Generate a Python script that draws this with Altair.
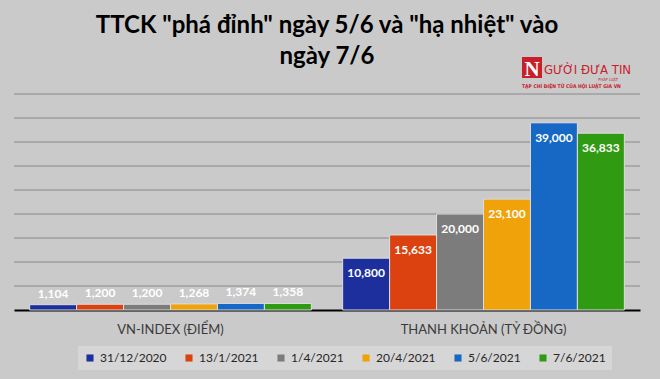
import altair as alt
import pandas as pd

# ---- data ----
groups = ["VN-INDEX (ĐIỂM)", "THANH KHOẢN (TỶ ĐỒNG)"]
dates = ["31/12/2020", "13/1/2021", "1/4/2021", "20/4/2021", "5/6/2021", "7/6/2021"]
vnindex = [1104, 1200, 1200, 1268, 1374, 1358]
liquidity = [10800, 15633, 20000, 23100, 39000, 36833]
colors = ["#1c2f9c", "#dc4210", "#7c7c7c", "#f0a20a", "#1668c4", "#2f9a12"]
grid_values = [5000, 10000, 15000, 20000, 25000, 30000, 35000, 40000, 45000]

title_lines = ['TTCK "phá đỉnh" ngày 5/6 và "hạ nhiệt" vào', "ngày 7/6"]
logo_n = ["N"]
logo_name = ["GƯỜI ĐƯA TIN"]
logo_small = ["PHÁP LUẬT"]
logo_tag = ["TẠP CHÍ ĐIỆN TỬ CỦA HỘI LUẬT GIA VN"]

rows = []
for g, vals in zip(groups, [vnindex, liquidity]):
    for d, v in zip(dates, vals):
        rows.append({"group": g, "date": d, "value": v, "label": f"{v:,}"})
df = pd.DataFrame(rows)
grid_df = pd.DataFrame({"value": grid_values})

FONT = "Lato"
COND = "DejaVu Sans Condensed, Liberation Sans, sans-serif"
W, H = 626, 216

yscale = alt.Scale(domain=[0, 45000], nice=False)

x_enc = alt.X("group:N", sort=groups,
              scale=alt.Scale(paddingInner=0.1, paddingOuter=0.05),
              axis=alt.Axis(title=None, labelAngle=0, ticks=False,
                            domainColor="#000000", domainWidth=2,
                            labelFontSize=13, labelColor="#3a3a3a",
                            labelFont=FONT, labelPadding=13))
xo_enc = alt.XOffset("date:N", sort=dates,
                     scale=alt.Scale(paddingInner=0, paddingOuter=0))
y_enc = alt.Y("value:Q", scale=yscale, axis=None)

grid = alt.Chart(grid_df).mark_rule(color="#888888", strokeWidth=1).encode(
    y=alt.Y("value:Q", scale=yscale, axis=None))

base = alt.Chart(df)

bars = base.mark_bar(stroke="#dedede", strokeWidth=1).encode(
    x=x_enc, xOffset=xo_enc, y=y_enc,
    color=alt.Color("date:N", sort=dates,
                    scale=alt.Scale(domain=dates, range=colors),
                    legend=alt.Legend(title=None, orient="none", direction="horizontal",
                                      legendX=64, legendY=252, columns=6,
                                      symbolType="square", symbolSize=50,
                                      symbolStrokeWidth=0, labelFont=FONT,
                                      labelFontSize=12, labelColor="#262626",
                                      labelOffset=4, columnPadding=16,
                                      padding=6, fillColor="#d6d6d6")),
)

labels_small = base.transform_filter(alt.datum.group == groups[0]).mark_text(
    baseline="bottom", dy=-4, font=FONT, fontWeight="bold", fontSize=12, color="#ffffff"
).encode(x=alt.X("group:N", sort=groups), xOffset=alt.XOffset("date:N", sort=dates),
         y=y_enc, text="label:N")

labels_big = base.transform_filter(alt.datum.group == groups[1]).mark_text(
    baseline="middle", dy=15, font=FONT, fontWeight="bold", fontSize=12, color="#ffffff"
).encode(x=alt.X("group:N", sort=groups), xOffset=alt.XOffset("date:N", sort=dates),
         y=y_enc, text="label:N")

logo_df = pd.DataFrame({"n": logo_n, "name": logo_name, "small": logo_small, "tag": logo_tag})
logo = alt.Chart(logo_df)
logo_box = logo.mark_rect(color="#c8202a").encode(
    x=alt.value(508), x2=alt.value(528), y=alt.value(-37), y2=alt.value(-16))
logo_letter = logo.mark_text(font="Liberation Serif", fontSize=21, fontWeight="bold",
                             color="#ffffff", align="center", baseline="alphabetic").encode(
    x=alt.value(518), y=alt.value(-18), text="n:N")
logo_text = logo.mark_text(font=COND, fontSize=13, color="#c8202a",
                           align="left", baseline="alphabetic").encode(
    x=alt.value(530), y=alt.value(-20), text="name:N")
logo_sm = logo.mark_text(font=COND, fontSize=4, color="#c8202a",
                         align="right", baseline="alphabetic").encode(
    x=alt.value(604), y=alt.value(-13), text="small:N")
logo_tg = logo.mark_text(font=COND, fontSize=5, fontWeight="bold",
                         color="#c8202a", align="left", baseline="alphabetic").encode(
    x=alt.value(508), y=alt.value(-6), text="tag:N")

chart = alt.layer(grid, bars, labels_small, labels_big,
                  logo_box, logo_letter, logo_text, logo_sm, logo_tg).properties(
    width=W, height=H,
    title=alt.TitleParams(text=title_lines, font=FONT, fontSize=24, fontWeight="bold",
                          color="#000000", anchor="middle", frame="group",
                          baseline="alphabetic", lineHeight=31, offset=-7, dy=24),
    autosize=alt.AutoSizeParams(type="none"),
    padding={"left": 14, "top": 94, "right": 20, "bottom": 69},
    background="#cacaca",
).configure_view(stroke=None)

chart.save("out.html", embed_options={"renderer": "svg", "actions": False})
